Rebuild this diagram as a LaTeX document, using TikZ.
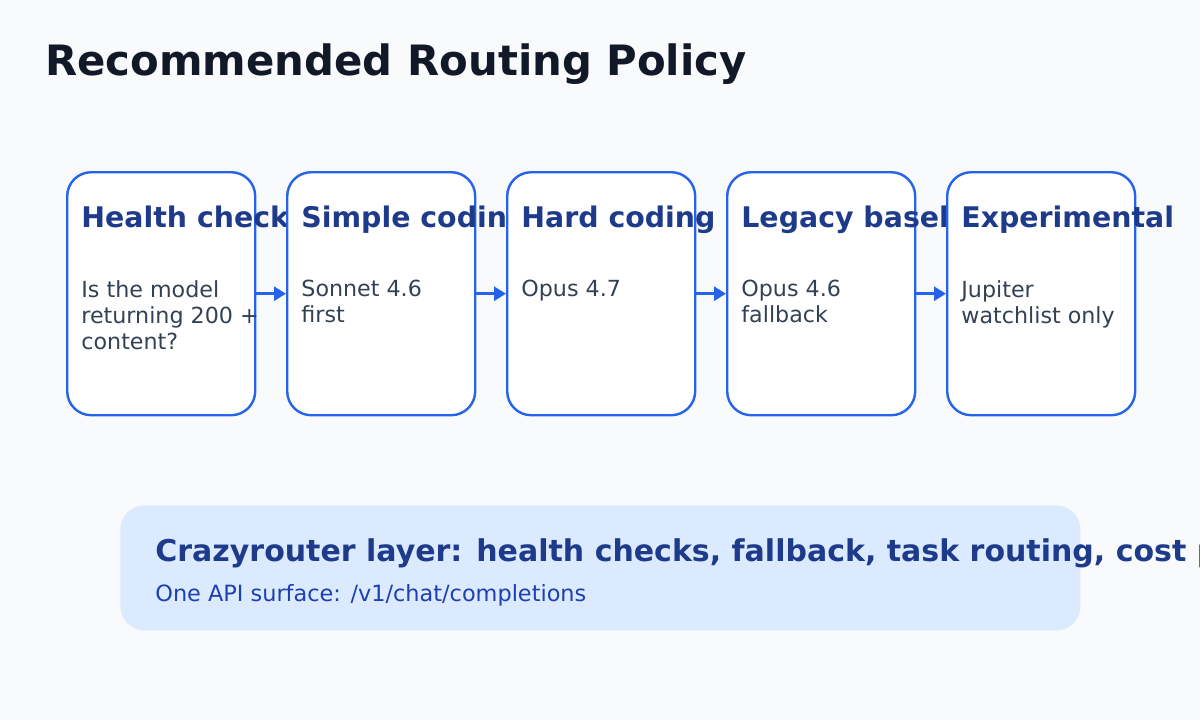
\documentclass[tikz,border=0pt]{standalone}
\usepackage{fontspec}
\setmainfont{DejaVu Sans}
\usetikzlibrary{arrows.meta}
\definecolor{bg}{HTML}{F8FAFC}
\definecolor{ttl}{HTML}{111827}
\definecolor{bl}{HTML}{2563EB}
\definecolor{hd}{HTML}{1E3A8A}
\definecolor{bd}{HTML}{334155}
\definecolor{pan}{HTML}{DBEAFE}
\definecolor{sub}{HTML}{1E40AF}
\begin{document}
\begin{tikzpicture}[x=0.5pt,y=-0.5pt,
  card/.style={draw=bl,line width=1.2pt,fill=white,rounded corners=12pt,minimum width=94pt,minimum height=121.5pt,anchor=north west,inner sep=0pt},
  head/.style={anchor=base west,inner sep=0pt,font=\bfseries\fontsize{14.2}{17}\selectfont,text=hd},
  body/.style={anchor=north west,inner sep=0pt,font=\fontsize{11.1}{13}\selectfont,text=bd,align=left},
  conn/.style={draw=bl,line width=1.3pt,-{Triangle[length=6pt,width=7pt]}}]
\useasboundingbox (0,0) rectangle (1200,720);
\clip (0,0) rectangle (1200,720);
\fill[bg] (0,0) rectangle (1200,720);
\node[anchor=base west,inner sep=0pt,font=\bfseries\fontsize{20.9}{24}\selectfont,text=ttl] (title) at (45,75) {Recommended Routing Policy};
\foreach \i/\x/\h/\b in {1/66/Health check/{Is the model\\returning 200 +\\content?},
                         2/286/Simple coding/{Sonnet 4.6\\first},
                         3/506/Hard coding/{Opus 4.7},
                         4/726/Legacy baseline/{Opus 4.6\\fallback},
                         5/946/Experimental/{Jupiter\\watchlist only}}{
  \node[card] (b\i) at (\x,171) {};
  \node[head] (h\i) at (\x+15,227) {\h};
  \node[body] (t\i) at (\x+15,280) {\b};
}
\foreach \i/\j in {1/2,2/3,3/4,4/5}{
  \draw[conn] (b\i.east) -- (b\j.west);
}
\node[fill=pan,rounded corners=12pt,minimum width=480pt,minimum height=62.5pt,anchor=north west,inner sep=0pt] (panel) at (120,505) {};
\node[anchor=base west,inner sep=0pt,font=\bfseries\fontsize{15}{18}\selectfont,text=hd] (pt) at (155,561) {Crazyrouter layer: health checks, fallback, task routing, cost policy};
\node[anchor=base west,inner sep=0pt,font=\fontsize{11.2}{13}\selectfont,text=sub] (ps) at (155,601) {One API surface: /v1/chat/completions};
\end{tikzpicture}
\end{document}
